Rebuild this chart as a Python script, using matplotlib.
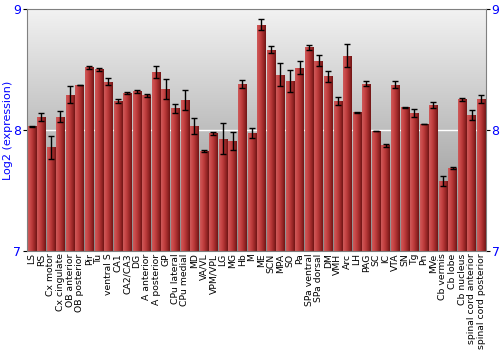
import numpy as np
import matplotlib.pyplot as plt
from matplotlib.colors import LinearSegmentedColormap

regions = ["LS", "RS", "Cx motor", "Cx cingulate", "OB anterior", "OB posterior",
           "Pir", "Tu", "ventral S", "CA1", "CA2/CA3", "DG", "A anterior",
           "A posterior", "GP", "CPu lateral", "CPu medial", "MD", "VA/VL",
           "VPM/VPL", "LG", "MG", "Hb", "M", "ME", "SCN", "MPA", "SO", "Pa",
           "SPa ventral", "SPa dorsal", "DM", "VMH", "Arc", "LH", "PAG", "SC",
           "IC", "VTA", "SN", "Tg", "Pn", "MVe", "Cb vermis", "Cb lobe",
           "Cb nucleus", "spinal cord anterior", "spinal cord posterior"]

expr = [8.033, 8.11, 7.856, 8.11, 8.293, 8.373, 8.52, 8.504, 8.40, 8.243,
        8.307, 8.32, 8.29, 8.48, 8.34, 8.18, 8.249, 8.033, 7.826, 7.972,
        7.928, 7.909, 8.382, 7.975, 8.872, 8.665, 8.46, 8.407, 8.517, 8.685,
        8.574, 8.444, 8.243, 8.618, 8.149, 8.385, 7.992, 7.873, 8.376, 8.188,
        8.141, 8.05, 8.207, 7.578, 7.685, 8.255, 8.124, 8.255]

err = [0.004, 0.033, 0.094, 0.045, 0.07, 0.003, 0.01, 0.012, 0.03, 0.015,
       0.005, 0.015, 0.012, 0.047, 0.083, 0.036, 0.083, 0.066, 0.012, 0.01,
       0.127, 0.075, 0.036, 0.044, 0.046, 0.03, 0.093, 0.094, 0.052, 0.018,
       0.047, 0.047, 0.032, 0.093, 0.004, 0.024, 0.004, 0.012, 0.03, 0.003,
       0.03, 0.004, 0.024, 0.041, 0.008, 0.012, 0.044, 0.035]

fig = plt.figure(figsize=(5, 3.5), dpi=100)
ax = fig.add_axes([0.054, 0.284, 0.918, 0.689])

x = np.arange(len(regions))
ax.set_xlim(-0.5, len(regions) - 0.5)
ax.set_ylim(7, 9)

# background gradient, light at the top
bg = LinearSegmentedColormap.from_list("bg", ["#8a8a8a", "#f2f2f2"])
ax.imshow(np.linspace(0, 1, 256).reshape(-1, 1), cmap=bg, origin="lower",
          extent=[0, 1, 0, 1], transform=ax.transAxes, aspect="auto", zorder=0)

ax.axhline(8, color="white", lw=1, zorder=1)

# bars with a horizontal shading
bars = ax.bar(x, np.array(expr) - 7, bottom=7, width=0.88, color="none",
              edgecolor="none", zorder=2)
shade = LinearSegmentedColormap.from_list(
    "shade", ["#cc5a5a", "#c94848", "#b53636", "#962626", "#701515"])
grad = np.linspace(0, 1, 64).reshape(1, -1)
for b in bars:
    x0, y0 = b.get_x(), b.get_y()
    im = ax.imshow(grad, cmap=shade, extent=[x0, x0 + b.get_width(), y0, y0 + b.get_height()],
                   aspect="auto", zorder=2)
    im.set_clip_path(b)

ax.errorbar(x, expr, yerr=err, fmt="none", ecolor="black", elinewidth=1,
            capsize=2, capthick=1, zorder=3)

ax.set_xticks(x)
ax.set_xticklabels(regions, rotation=90, fontsize=6.7, family="DejaVu Sans")
ax.tick_params(axis="x", length=0, pad=2)

ax.set_yticks([7, 8, 9])
ax.tick_params(axis="y", colors="black", labelcolor="#0000ff", labelsize=9,
               length=3, right=True, labelright=True, direction="out", pad=1)
ax.set_ylabel("Log2 (expression)", color="#0000ff", fontsize=8,
              family="DejaVu Sans")
ax.yaxis.set_label_coords(-0.03, 0.5)

for s in ax.spines.values():
    s.set_color("#808080")

fig.savefig("out.png", dpi=100)
